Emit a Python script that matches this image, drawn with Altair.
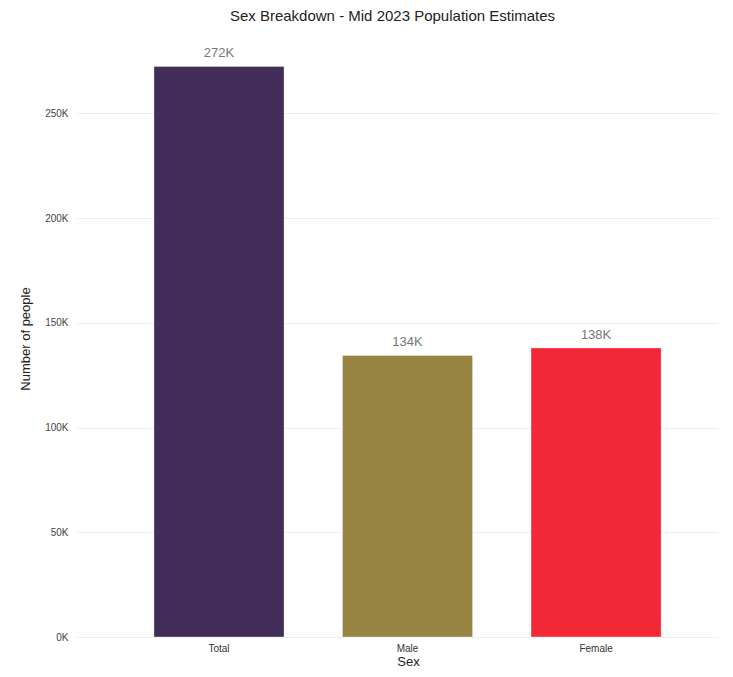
import altair as alt
import pandas as pd

categories = ["Total", "Male", "Female"]
values = [272400, 134400, 138000]
labels = ["272K", "134K", "138K"]
colors = ["#422d59", "#978442", "#f22837"]

df = pd.DataFrame({"Sex": categories, "People": values, "Label": labels})

font = "Liberation Sans"

base = alt.Chart(df).encode(
    x=alt.X(
        "Sex:N",
        sort=categories,
        scale=alt.Scale(paddingInner=0.31, paddingOuter=0.355, align=0.575),
        axis=alt.Axis(
            title="Sex", labelAngle=0, domain=False, ticks=False,
            labelFontSize=10, labelColor="#333333", labelPadding=6,
            titleFontSize=13, titleFontWeight="normal", titleColor="#222222",
            titlePadding=2, labelFont=font, titleFont=font, titleX=331,
        ),
    ),
    y=alt.Y(
        "People:Q",
        scale=alt.Scale(domain=[0, 285000], nice=False),
        axis=alt.Axis(
            title="Number of people", values=[0, 50000, 100000, 150000, 200000, 250000],
            labelExpr="format(datum.value/1000, 'd') + 'K'",
            domain=False, ticks=False, gridColor="#eeeeee",
            labelFontSize=10, labelColor="#444444", labelPadding=9,
            titleFontSize=13, titleFontWeight="normal", titleColor="#222222",
            titlePadding=12, labelFont=font, titleFont=font,
        ),
    ),
)

bars = base.mark_bar(stroke="white", strokeOpacity=0.35, strokeWidth=1).encode(
    color=alt.Color("Sex:N", scale=alt.Scale(domain=categories, range=colors), legend=None)
)

text = base.mark_text(dy=-6, fontSize=13, color="#777777", font=font, baseline="bottom").encode(
    text="Label:N"
)

chart = (bars + text).properties(
    width=641,
    height=597,
    title=alt.TitleParams(
        "Sex Breakdown - Mid 2023 Population Estimates",
        fontSize=15, fontWeight="normal", color="#222222", font=font, offset=16, dx=-5,
    ),
    autosize=alt.AutoSizeParams(type="none"),
    padding={"left": 69, "top": 32, "right": 5, "bottom": 30},
).configure_view(stroke=None)

chart.save("out.html", embed_options={"renderer": "svg", "actions": False})
